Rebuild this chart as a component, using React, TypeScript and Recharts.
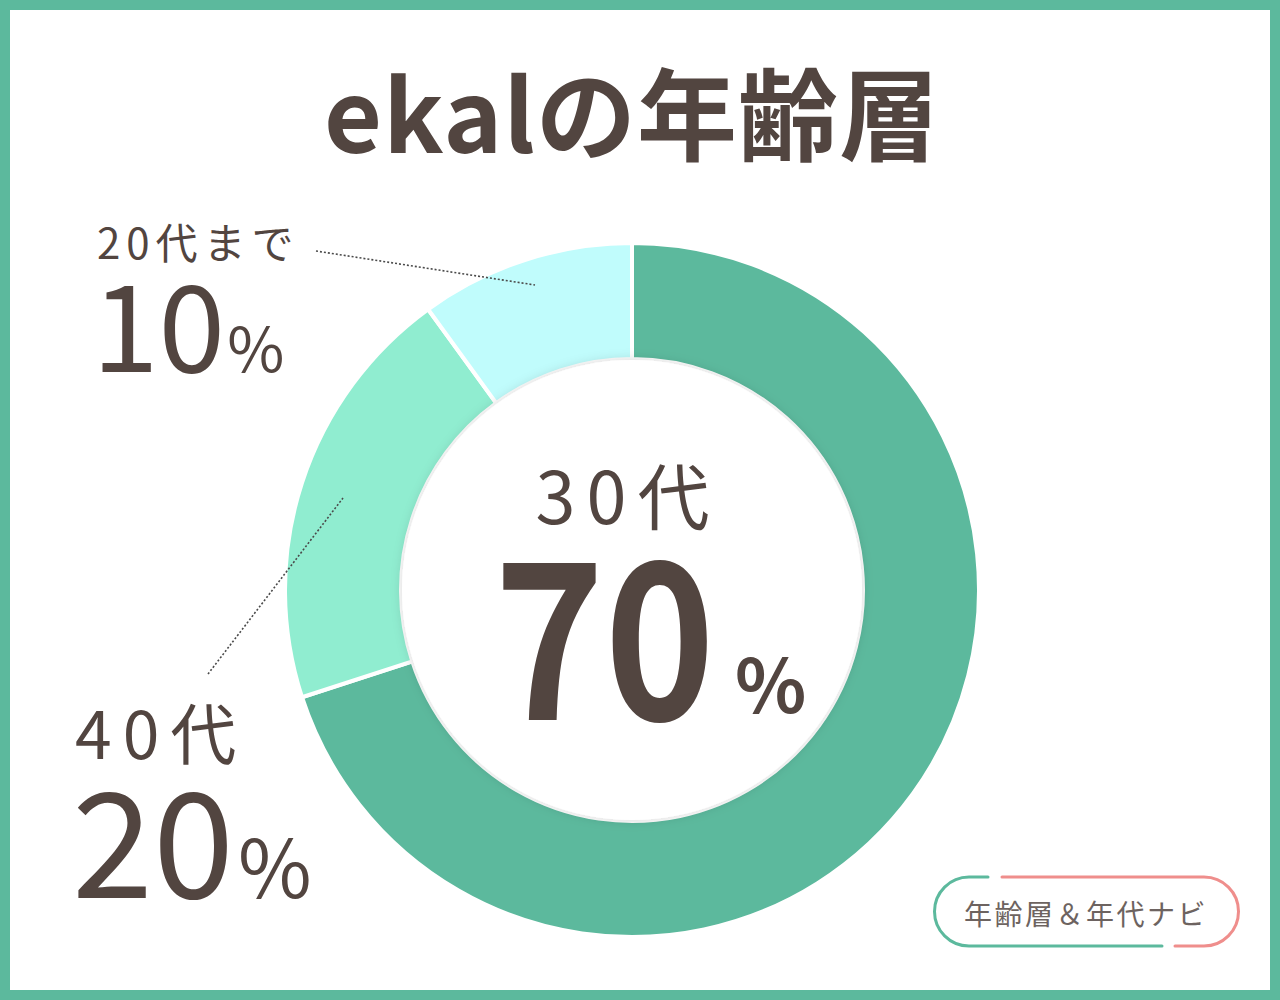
import { PieChart, Pie, Cell } from 'recharts';

const ageGroups = ['30代', '40代', '20代まで'];
const shares = [70, 20, 10];
const sliceColors = ['#5cb99d', '#90edd0', '#c0fcfc'];

const data = ageGroups.map((name, i) => ({ name, value: shares[i] }));

const ink = '#524540';
const jp = '"Noto Sans CJK JP", "Noto Sans", sans-serif';

function Overlay() {
  return (
    <svg width={1280} height={1000} style={{ position: 'absolute', left: 0, top: 0 }}>
      <defs>
        <filter id="lift" x="-20%" y="-20%" width="140%" height="140%">
          <feDropShadow dx="0" dy="0" stdDeviation="6" floodColor="#000" floodOpacity="0.16" />
        </filter>
      </defs>
      <circle cx={632} cy={590} r={230} fill="#fff" filter="url(#lift)" />

      {/* title */}
      <text x={632} y={153} textAnchor="middle" fontFamily={jp} fontWeight={700} fontSize={100} fill={ink} letterSpacing={1}>
        ekalの年齢層
      </text>

      {/* leader lines */}
      <line x1={316} y1={251} x2={535} y2={285} stroke="#4a4a4a" strokeWidth={1.6} strokeDasharray="2 2" />
      <line x1={208} y1={674} x2={343} y2={498} stroke="#4a4a4a" strokeWidth={1.6} strokeDasharray="2 2" />

      {/* 20代まで */}
      <text x={97} y={259} fontFamily={jp} fontSize={42} fill={ink} letterSpacing={6}>
        20代まで
      </text>
      <text x={92} y={372} fontFamily={jp} fontSize={120} fill={ink}>
        10<tspan fontSize={62} dx={2}>%</tspan>
      </text>

      {/* 40代 */}
      <text x={75} y={759} fontFamily={jp} fontSize={66} fill={ink} letterSpacing={11}>
        40代
      </text>
      <text x={72} y={898} fontFamily={jp} fontSize={146} fill={ink}>
        20<tspan fontSize={80} dx={4}>%</tspan>
      </text>

      {/* centre */}
      <text x={628} y={524} textAnchor="middle" fontFamily={jp} fontSize={72} fill={ink} letterSpacing={11}>
        30代
      </text>
      <text transform="translate(494,720) scale(0.86,1)" fontFamily={jp} fontWeight={700} fontSize={218} fill={ink}>
        70
      </text>
      <text x={735} y={713} fontFamily={jp} fontWeight={700} fontSize={74} fill={ink}>
        %
      </text>

      {/* badge */}
      <path d="M988 877 L969 877 A34.5 34.5 0 0 0 969 946 L1162 946" fill="none" stroke="#5cb99d" strokeWidth={3} strokeLinecap="round" />
      <path d="M1002 877 L1204 877 A34.5 34.5 0 0 1 1204 946 L1175 946" fill="none" stroke="#ef8e8c" strokeWidth={3} strokeLinecap="round" />
      <text x={1086} y={925} textAnchor="middle" fontFamily={jp} fontSize={28} fill="#6d6360" letterSpacing={2.5}>
        年齢層＆年代ナビ
      </text>
    </svg>
  );
}

export default function App() {
  return (
    <div
      style={{
        position: 'absolute',
        left: 0,
        top: 0,
        width: 1280,
        height: 1000,
        background: '#fff',
        overflow: 'hidden',
      }}
    >
      <PieChart
        width={1280}
        height={1000}
        margin={{ top: 0, right: 0, bottom: 0, left: 0 }}
        style={{ position: 'absolute', left: 0, top: 0 }}
      >
        <Pie
          data={data}
          dataKey="value"
          nameKey="name"
          cx={632}
          cy={590}
          innerRadius={231}
          outerRadius={347}
          startAngle={90}
          endAngle={-270}
          stroke="#fff"
          strokeWidth={4}
          isAnimationActive={false}
        >
          {data.map((d, i) => (
            <Cell key={d.name} fill={sliceColors[i]} />
          ))}
        </Pie>
      </PieChart>
      <Overlay />
      <div
        style={{
          position: 'absolute',
          left: 0,
          top: 0,
          width: 1280,
          height: 1000,
          boxSizing: 'border-box',
          border: '10px solid #5cb99d',
          pointerEvents: 'none',
        }}
      />
    </div>
  );
}
